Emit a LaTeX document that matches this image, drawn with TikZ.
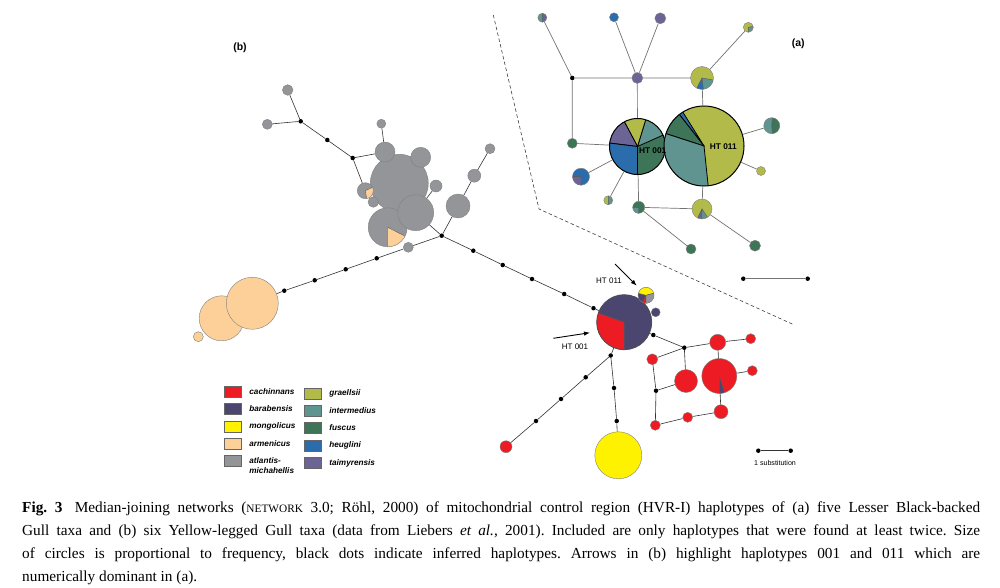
\documentclass[tikz,border=0pt]{standalone}
\usepackage{fontspec}
\setmainfont{Liberation Serif}
\setsansfont{Liberation Sans}
\usetikzlibrary{positioning,arrows.meta}

\definecolor{cach}{RGB}{237,28,36}
\definecolor{bara}{RGB}{75,70,112}
\definecolor{mong}{RGB}{255,242,0}
\definecolor{arme}{RGB}{253,208,154}
\definecolor{atla}{RGB}{147,149,152}
\definecolor{grae}{RGB}{178,187,74}
\definecolor{inte}{RGB}{96,148,145}
\definecolor{fusc}{RGB}{62,117,88}
\definecolor{heug}{RGB}{42,108,172}
\definecolor{taim}{RGB}{108,100,148}

\tikzset{
  hap/.style={circle, draw=black!50, line width=.4pt, inner sep=0pt, minimum size=#1pt},
  med/.style={circle, fill=black, inner sep=0pt, minimum size=4.5pt},
  slice/.style={draw=black!65, line width=.4pt},
  pie/.style={path picture={
    \foreach \p/\q/\col in {#1}
      \filldraw[slice, fill=\col] (path picture bounding box.center)
        -- ++(\p:60pt) arc[start angle=\p, end angle=\q, radius=60pt] -- cycle;}},
  link/.style={draw=black!55, line width=.7pt},
  blink/.style={draw=black!80, line width=.6pt},
  keybox/.style={draw=black!60, line width=.5pt, minimum width=16.5pt, minimum height=11pt, inner sep=0pt},
  keytext/.style={font=\sffamily\bfseries\itshape\fontsize{8.2}{9.5}\selectfont, inner sep=0pt, align=left},
  tag/.style={font=\sffamily\bfseries\fontsize{10.5}{10.5}\selectfont, inner sep=0pt},
  httag/.style={font=\sffamily\fontsize{8}{8}\selectfont, inner sep=0pt},
}

\begin{document}
\begin{tikzpicture}[x=1pt, y=-1pt]
  \path[fill=white] (0,0) rectangle (1000,588);
  \useasboundingbox (0,0) rectangle (1000,588);

  \node[hap=9, fill=inte, pie={-90/90/taim}] (a1) at (542.3,17.7) {};
  \node[hap=9, fill=heug] (a2) at (614,17.3) {};
  \node[hap=11, fill=taim] (a3) at (660.3,18.3) {};
  \node[hap=10, fill=grae, pie={-90/10/inte}] (a4) at (748.3,27.3) {};
  \node[med] (am1) at (572.3,78) {};
  \node[hap=11, fill=taim] (a5) at (637.3,78) {};
  \node[hap=23, fill=grae, pie={-117/-83/heug,-83/-10/inte}] (a6) at (702,78) {};
  \node[hap=10, fill=fusc] (a7) at (572.3,143.3) {};
  \node[hap=56, fill=fusc, draw=black, line width=1pt, slice/.style={draw=black, line width=.8pt},
    pie={24/73/inte,73/118/grae,118/173/taim,173/270/heug}] (ht1a) at (637.5,146.5) {};
  \node[hap=80, fill=grae, draw=black, line width=1pt, slice/.style={draw=black, line width=.8pt},
    pie={122/128/heug,128/162/fusc,162/276/inte}] (ht11a) at (704,146) {};
  \node[hap=16, fill=inte, pie={-85/85/fusc}] (a8) at (771.7,125.7) {};
  \node[hap=9, fill=grae] (a9) at (761,171) {};
  \node[hap=17, fill=heug, pie={180/270/taim}] (a10) at (581,176.7) {};
  \node[hap=9, fill=inte, pie={90/270/grae}] (a11) at (608.3,200.3) {};
  \node[hap=12, fill=fusc, pie={180/270/inte}] (a12) at (638.7,207.3) {};
  \node[hap=20, fill=grae, pie={244/270/taim,270/304/inte}] (a13) at (702,209) {};
  \node[hap=10, fill=fusc] (a14) at (691,249) {};
  \node[hap=11, fill=fusc] (a15) at (755,245.7) {};
  \node[tag, font=\sffamily\bfseries\fontsize{8.3}{8.3}\selectfont] (lht1a) at (652.7,150.7) {HT 001};
  \node[tag, font=\sffamily\bfseries\fontsize{8.3}{8.3}\selectfont] (lht11a) at (723.3,146.7) {HT 011};

  \draw[link] (a1) -- (am1) -- (a5) -- (a6) -- (a4);
  \draw[link] (a2) -- (a5) -- (a3);
  \draw[link] (am1) -- (a7) -- (ht1a);
  \draw[link] (a5) -- (ht1a);
  \draw[link] (a6) -- (ht11a);
  \draw[link] (ht11a) -- (a8);
  \draw[link] (ht11a) -- (a9);
  \draw[link] (ht1a) -- (a10);
  \draw[link] (ht1a) -- (a11);
  \draw[link] (ht1a) -- (a12) -- (a13) -- (ht11a);
  \draw[link] (a12) -- (a14);
  \draw[link] (a13) -- (a15);

  \node[tag] (la) at (798.3,43.3) {(a)};
  \coordinate (d1) at (493.3,15);
  \coordinate (d2) at (539,209);
  \coordinate (d3) at (793.3,324.5);
  \draw[black!75, line width=.6pt, dash pattern=on 3.5pt off 2.5pt] (d1) -- (d2) -- (d3);
  \node[med] (sa1) at (743.3,278.7) {};
  \node[med] (sa2) at (807.7,278.7) {};
  \draw[link] (sa1) -- (sa2);

  \node[tag] (lb) at (240,48) {(b)};
  \node[hap=10.6, fill=atla] (b1) at (287.7,90) {};
  \node[hap=10, fill=atla] (b2) at (267.3,124.3) {};
  \node[med] (bm1) at (300.7,121.3) {};
  \node[med] (bm2) at (327.3,140) {};
  \node[med] (bm3) at (352.7,158) {};
  \node[hap=9, fill=atla] (b3) at (381.3,123.7) {};
  \node[hap=58, fill=atla] (b6) at (399.3,183.3) {};
  \node[hap=20, fill=atla] (b4) at (385,152) {};
  \node[hap=20, fill=atla] (b5) at (420.7,157.3) {};
  \node[hap=16, fill=atla, pie={-80/25/arme}] (b7) at (365.3,190.7) {};
  \node[hap=10.6, fill=atla] (b8) at (373.3,202) {};
  \node[hap=39, fill=atla, pie={270/333/arme}] (b9) at (387.7,227.3) {};
  \node[hap=36, fill=atla] (b10) at (415.7,212.7) {};
  \node[hap=12, fill=atla] (b11) at (436,186) {};
  \node[hap=10, fill=atla] (b12) at (408.3,247.3) {};
  \node[med] (bj) at (441.7,235.7) {};
  \node[hap=24, fill=atla] (b13) at (458,206) {};
  \node[hap=13, fill=atla] (b14) at (474.3,175.7) {};
  \node[hap=10, fill=atla] (b15) at (490,148.7) {};
  \node[med] (bm4) at (376.7,258.3) {};
  \node[med] (bm5) at (345.7,269.3) {};
  \node[med] (bm6) at (314.7,280.3) {};
  \node[med] (bm7) at (284.3,290.7) {};
  \node[hap=45, fill=arme] (b16) at (221.7,318.3) {};
  \node[hap=52, fill=arme] (b17) at (252.3,303.3) {};
  \node[hap=10, fill=arme] (b18) at (198.3,336.7) {};

  \node[med] (bm8) at (473.3,250.7) {};
  \node[med] (bm9) at (502.7,265) {};
  \node[med] (bm10) at (532,279) {};
  \node[med] (bm11) at (564.2,294) {};
  \node[med] (bm12) at (593.5,308.2) {};
  \node[hap=55, fill=bara, draw=black!70, line width=.8pt, pie={161/270/cach}] (ht1b) at (624.2,322.2) {};
  \node[hap=16, fill=bara, pie={15/165/mong,240/270/cach,270/375/atla}] (ht11b) at (646,295.3) {};
  \node[hap=9, fill=bara] (b19) at (655.7,312.3) {};
  \node[med] (bm13) at (653.3,335) {};
  \node[med] (bm14) at (610.7,355.5) {};
  \node[med] (bm15) at (585.7,377.3) {};
  \node[med] (bm16) at (561,399) {};
  \node[med] (bm17) at (536,421) {};
  \node[hap=12, fill=cach] (b20) at (506,446.7) {};
  \node[med] (bm18) at (614,388) {};
  \node[med] (bm19) at (616.7,421) {};
  \node[hap=47, fill=mong] (b21) at (618.3,455.3) {};

  \node[med] (bm20) at (684.3,347.7) {};
  \node[hap=11, fill=cach] (c1) at (652.3,359.3) {};
  \node[hap=16, fill=cach] (c2) at (717.7,342.3) {};
  \node[hap=10, fill=cach] (c3) at (750.7,338.7) {};
  \node[hap=23, fill=cach] (c4) at (686,381) {};
  \node[hap=35, fill=cach, pie={270/287/bara}] (c5) at (719.3,376) {};
  \node[hap=10, fill=cach] (c6) at (752.3,370.7) {};
  \node[med] (bm21) at (656,390.7) {};
  \node[hap=14, fill=cach] (c7) at (721,411.7) {};
  \node[hap=10, fill=cach] (c8) at (687.7,417.3) {};
  \node[hap=10, fill=cach] (c9) at (655.3,425.3) {};

  \draw[blink] (b1) -- (bm1) -- (bm2) -- (bm3) -- (b4) -- (b3);
  \draw[blink] (b2) -- (bm1);
  \draw[blink] (bm3) -- (b7);
  \draw[blink] (bj) -- (b10) -- (b11);
  \draw[blink] (bj) -- (b13) -- (b14) -- (b15);
  \draw[blink] (bj) -- (b12) -- (bm4) -- (bm5) -- (bm6) -- (bm7) -- (b17);
  \draw[blink] (bj) -- (bm8) -- (bm9) -- (bm10) -- (bm11) -- (bm12) -- (ht1b);
  \draw[blink] (ht1b) -- (bm14) -- (bm15) -- (bm16) -- (bm17) -- (b20);
  \draw[blink] (bm14) -- (bm18) -- (bm19) -- (b21);
  \draw[blink] (ht1b) -- (bm13) -- (bm20) -- (c2) -- (c3);
  \draw[blink] (bm20) -- (c1) -- (bm21) -- (c9) -- (c8) -- (c7) -- (c5) -- (c6);
  \draw[blink] (bm20) -- (c4) -- (bm21);
  \draw[blink] (c2) -- (c5);

  \coordinate (p11) at (615,264);
  \coordinate (q11) at (636.7,285.7);
  \coordinate (p01) at (553.3,338.3);
  \coordinate (q01) at (590,332.7);
  \draw[line width=.9pt, -{Latex[length=6pt,width=4.5pt]}] (p11) -- (q11);
  \draw[line width=.9pt, -{Latex[length=6pt,width=4.5pt]}] (p01) -- (q01);
  \node[httag] (lht11b) at (609,281) {HT 011};
  \node[httag] (lht1b) at (575,346.7) {HT 001};

  \node[med] (sb1) at (758.3,450.7) {};
  \node[med] (sb2) at (790.7,450.7) {};
  \draw[blink] (sb1) -- (sb2);
  \node[httag, font=\sffamily\fontsize{7.1}{7.1}\selectfont] (lsub) at (775,462.5) {1 substitution};

  \foreach \col/\txt/\y [count=\i] in {cach/cachinnans/391.7, bara/barabensis/409,
      mong/mongolicus/426.7, arme/armenicus/444}{
    \node[keybox, fill=\col] (kl\i) at (232.7,\y) {};
    \node[keytext, right=8pt of kl\i] (tl\i) {\txt};
  }
  \node[keybox, fill=atla] (kl5) at (232.7,460.7) {};
  \node[keytext, anchor=north west] (tl5) at ([xshift=8pt,yshift=3pt]kl5.east) {atlantis-\\michahellis};
  \foreach \col/\txt/\y [count=\i] in {grae/graellsii/393.3, inte/intermedius/410.7,
      fusc/fuscus/428, heug/heuglini/445.7, taim/taimyrensis/463}{
    \node[keybox, fill=\col] (kr\i) at (312.7,\y) {};
    \node[keytext, right=8pt of kr\i] (tr\i) {\txt};
  }

  \node[anchor=north west, inner sep=0pt, text width=958pt, align=justify,
    font=\fontsize{15.3}{23}\selectfont\frenchspacing] (cap) at (22,502)
    {\textbf{Fig. 3}\hspace{.3em} Median-joining networks ({\fontsize{11.3}{10}\selectfont NETWORK} 3.0; Röhl, 2000) of mitochondrial control region (HVR-I) haplotypes of (a) five Lesser Black-backed\linebreak
    Gull taxa and (b) six Yellow-legged Gull taxa (data from Liebers \textit{et al.}, 2001). Included are only haplotypes that were found at least twice. Size\linebreak
    of circles is proportional to frequency, black dots indicate inferred haplotypes. Arrows in (b) highlight haplotypes 001 and 011 which are\linebreak
    numerically dominant in (a).};
\end{tikzpicture}
\end{document}
